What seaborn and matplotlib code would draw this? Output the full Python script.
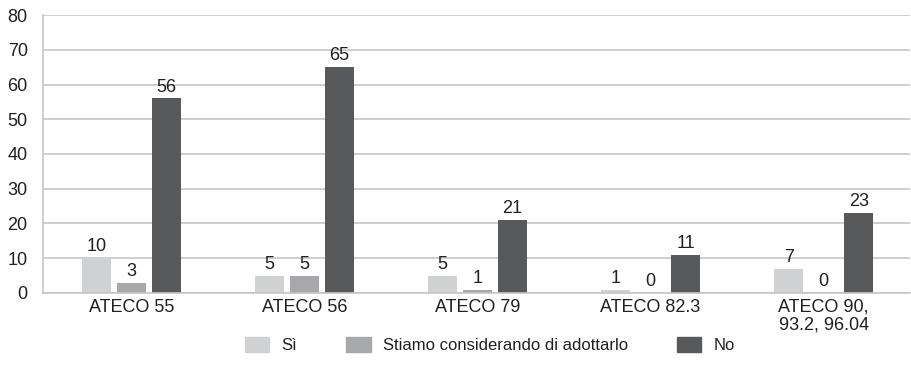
import matplotlib
matplotlib.use("Agg")
import matplotlib.pyplot as plt
import seaborn as sns
import pandas as pd

categories = ["ATECO 55", "ATECO 56", "ATECO 79", "ATECO 82.3", "ATECO 90,\n93.2, 96.04"]
series_names = ["Sì", "Stiamo considerando di adottarlo", "No"]
si_values = [10, 5, 5, 1, 7]
considering_values = [3, 5, 1, 0, 0]
no_values = [56, 65, 21, 11, 23]
y_ticks = [0, 10, 20, 30, 40, 50, 60, 70, 80]

colors = ["#d0d1d3", "#a7a8ab", "#58595b"]
text_color = "#231f20"
grid_color = "#c6c6c6"

rows = []
for name, vals in zip(series_names, [si_values, considering_values, no_values]):
    for cat, v in zip(categories, vals):
        rows.append({"categoria": cat, "risposta": name, "valore": v})
df = pd.DataFrame(rows)

sns.set_theme(style="white")
plt.rcParams["font.family"] = ["Liberation Sans", "DejaVu Sans"]

fig = plt.figure(figsize=(9.11, 3.80), dpi=100)
ax = fig.add_axes([0.0472, 0.229, 0.952, 0.7315])

sns.barplot(data=df, x="categoria", y="valore", hue="risposta",
            order=categories, hue_order=series_names, palette=colors,
            width=0.605, gap=0.17, saturation=1, linewidth=0,
            ax=ax, legend=True, errorbar=None)

for container in ax.containers:
    ax.bar_label(container, fmt="%d", padding=2, fontsize=13, color=text_color)

ax.set_ylim(0, 80)
ax.set_yticks(y_ticks)
ax.set_xlim(-0.51, len(categories) - 0.5)
ax.set_xlabel("")
ax.set_ylabel("")
ax.yaxis.grid(True, color=grid_color, linewidth=1.2)
ax.set_axisbelow(True)
for side in ["top", "right"]:
    ax.spines[side].set_visible(False)
for side in ["left", "bottom"]:
    ax.spines[side].set_color(grid_color)
    ax.spines[side].set_linewidth(1.2)
ax.tick_params(axis="both", length=0, labelsize=13, colors=text_color)
ax.tick_params(axis="x", pad=4)
ax.tick_params(axis="y", pad=11)
for lbl in ax.get_xticklabels():
    lbl.set_linespacing(1.1)

ax.legend_.remove()
handles = [plt.Rectangle((0, 0), 1, 1, color=c) for c in colors]
fig.legend(handles, series_names, loc="center", bbox_to_anchor=(0.538, 0.092),
           ncol=3, frameon=False, fontsize=12, handlelength=1.45, handleheight=1.0,
           columnspacing=2.95, handletextpad=0.75, labelcolor=text_color,
           borderpad=0)

fig.savefig("out.png", dpi=100)
